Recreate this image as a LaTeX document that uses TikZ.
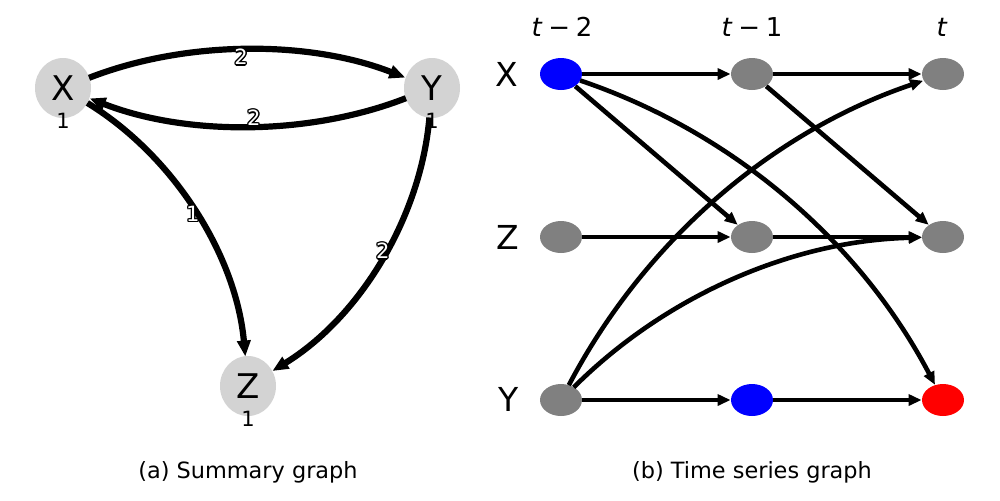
\documentclass[tikz,border=0pt]{standalone}
\usepackage{fontspec}
\setmainfont{DejaVu Sans}
\usetikzlibrary{arrows.meta,shapes.geometric}
\definecolor{lgray}{RGB}{211,211,211}
\definecolor{mgray}{RGB}{128,128,128}
\newcommand\oshift[2]{\rlap{\kern#1\raisebox{#2}{\color{black}\copy0}}}
\newcommand\olab[1]{{\setbox0\hbox{#1}\leavevmode
  \oshift{0.7pt}{0pt}\oshift{-0.7pt}{0pt}\oshift{0pt}{0.7pt}\oshift{0pt}{-0.7pt}%
  \oshift{0.5pt}{0.5pt}\oshift{-0.5pt}{0.5pt}\oshift{0.5pt}{-0.5pt}\oshift{-0.5pt}{-0.5pt}%
  {\color{white}\copy0}}}
\tikzset{
  sumnode/.style={ellipse, fill=lgray, minimum width=28pt, minimum height=30pt, inner sep=0pt, font=\fontsize{17}{17}\selectfont},
  tsnode/.style={ellipse, minimum width=21pt, minimum height=16pt, inner sep=0pt},
  small/.style={inner sep=0pt, font=\fontsize{10.5}{10.5}\selectfont},
  elab/.style={inner sep=0pt, font=\fontsize{10.5}{10.5}\selectfont},
  biglab/.style={inner sep=0pt, font=\fontsize{16.5}{16.5}\selectfont},
  hdr/.style={inner sep=0pt, font=\fontsize{13}{13}\selectfont},
  captext/.style={inner sep=0pt, font=\fontsize{11.2}{11.2}\selectfont},
  sedge/.style={line width=3.1pt, -{Triangle[length=8pt,width=6.5pt]}},
  tedge/.style={line width=2.3pt, -{Triangle[length=6.5pt,width=5.5pt]}},
}
\begin{document}
\begin{tikzpicture}[x=0.5pt,y=0.5pt]
\useasboundingbox (0,0) rectangle (1000,-500);
% summary graph
\node[sumnode] (X) at (63,-88) {X};
\node[sumnode] (Y) at (432,-88) {Y};
\node[sumnode] (Z) at (248,-386) {Z};
\node[small] (lx) at (63,-121) {1};
\node[small] (ly) at (432,-121) {1};
\node[small] (lz) at (248,-419) {1};
\draw[sedge, shorten <=14pt, shorten >=14.3pt] (X.center) .. controls (186,-40) and (309,-40) .. node[elab, pos=0.5, xshift=-3.2pt, yshift=-2.5pt] (e1) {\olab{2}} (Y.center);
\draw[sedge, shorten <=14pt, shorten >=14.3pt] (Y.center) .. controls (309,-136) and (186,-136) .. node[elab, pos=0.5, xshift=3.2pt, yshift=3pt] (e2) {\olab{2}} (X.center);
\draw[sedge, shorten <=14.3pt, shorten >=14.8pt] (X.center) .. controls (174.5,-156.4) and (236.1,-255.7) .. node[elab, pos=0.5] (e3) {\olab{1}} (Z.center);
\draw[sedge, shorten <=14.8pt, shorten >=14.3pt] (Y.center) .. controls (420.6,-218.2) and (359.3,-317.5) .. node[elab, pos=0.47] (e4) {\olab{2}} (Z.center);
\node[captext] (capa) at (248,-472) {(a) Summary graph};
% time series graph
\node[hdr] (h2) at (562,-27) {\textit{t}\hspace{0.22em}−\hspace{0.22em}2};
\node[hdr] (h1) at (752,-27) {\textit{t}\hspace{0.22em}−\hspace{0.22em}1};
\node[hdr] (h0) at (942,-27) {\textit{t}};
\node[biglab] (rx) at (507,-74) {X};
\node[biglab] (rz) at (508,-237) {Z};
\node[biglab] (ry) at (509,-399) {Y};
\node[tsnode, fill=blue] (x2) at (561,-74) {};
\node[tsnode, fill=mgray] (x1) at (752,-74) {};
\node[tsnode, fill=mgray] (x0) at (943,-74) {};
\node[tsnode, fill=mgray] (z2) at (561,-237) {};
\node[tsnode, fill=mgray] (z1) at (752,-237) {};
\node[tsnode, fill=mgray] (z0) at (943,-237) {};
\node[tsnode, fill=mgray] (y2) at (561,-400) {};
\node[tsnode, fill=blue] (y1) at (752,-400) {};
\node[tsnode, fill=red] (y0) at (943,-400) {};
\draw[tedge] (x2) -- (x1);
\draw[tedge] (x1) -- (x0);
\draw[tedge] (z2) -- (z1);
\draw[tedge] (z1) -- (z0);
\draw[tedge] (y2) -- (y1);
\draw[tedge] (y1) -- (y0);
\draw[tedge] (x2) -- (z1);
\draw[tedge] (x1) -- (z0);
\draw[tedge, shorten <=10.1pt, shorten >=8.6pt] (x2.center) .. controls (731.8,-131.7) and (859.1,-240.4) .. (y0.center);
\draw[tedge, shorten <=8.4pt, shorten >=10.5pt] (y2.center) .. controls (644.9,-240.4) and (772.2,-131.7) .. (x0.center);
\draw[tedge, shorten <=9pt, shorten >=10.5pt] (y2.center) .. controls (666.6,-294.7) and (793.9,-240.4) .. (z0.center);
\node[captext] (capb) at (752,-472) {(b) Time series graph};
\end{tikzpicture}
\end{document}
